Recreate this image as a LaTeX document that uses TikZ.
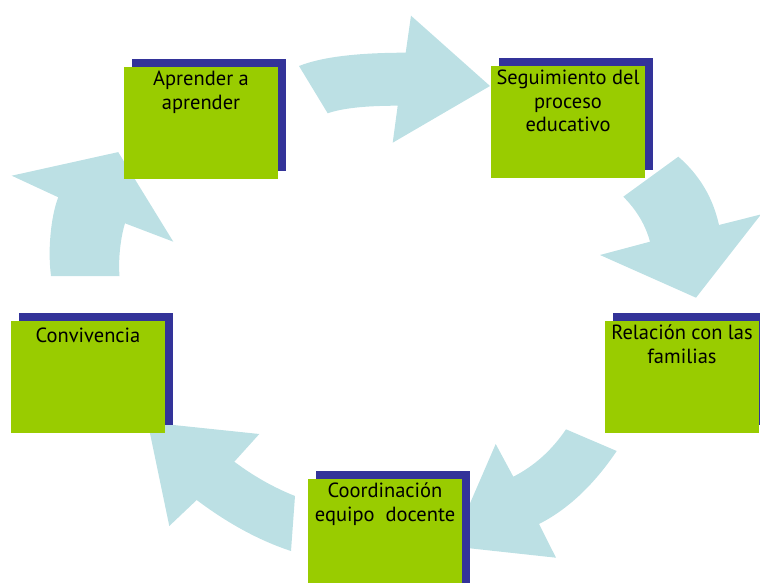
\documentclass[tikz,border=0pt]{standalone}
\usepackage{fontspec}
\setmainfont{PT Sans}
\usetikzlibrary{shadows}
\definecolor{boxgreen}{RGB}{153,204,0}
\definecolor{boxnavy}{RGB}{51,51,153}
\definecolor{arrowblue}{RGB}{188,224,228}
\begin{document}
\begin{tikzpicture}[x=1pt,y=-1pt,
  stagebox/.style={fill=boxgreen, draw=none, minimum width=154pt, minimum height=112pt, inner sep=0pt,
    copy shadow={shadow xshift=8pt, shadow yshift=8pt, fill=boxnavy, draw=none}},
  stagetext/.style={anchor=north, inner sep=0pt, align=center, text=black,
    font=\fontsize{20.5pt}{23.8pt}\selectfont, execute at begin node={\rule{0pt}{18pt}}},
  cyclearrow/.style={fill=arrowblue, draw=none}]
\useasboundingbox (0,0) rectangle (760,583);
\clip (0,0) rectangle (760,583);
% cycle arrows
\fill[cyclearrow] (299,66) .. controls (321.2,57.1) and (356.9,52.7) .. (405.7,52.7) -- (411,15.7) -- (490,86) -- (392.7,142.7) -- (397.7,105.7) .. controls (365.5,105.7) and (342.2,108.2) .. (327.7,113.3) -- cycle;
\fill[cyclearrow] (678.3,156.7) .. controls (699.3,174.8) and (712.9,197.5) .. (719,225) -- (761,214.4) -- (696,297.7) -- (600,255) -- (650,241.7) .. controls (645.5,225) and (636.6,210) .. (623.3,196.7) -- cycle;
\fill[cyclearrow] (616.7,451) .. controls (593.7,485.1) and (567.8,509.4) .. (539,524) -- (556,557.7) -- (451.4,546.3) -- (495.7,444) -- (513.3,476.7) .. controls (534.3,466) and (551.9,450.2) .. (566,429.3) -- cycle;
\fill[cyclearrow] (291,551) .. controls (259.6,540.7) and (228.2,523.7) .. (196.7,500) -- (169.3,526) -- (147.7,422.3) -- (259.3,434) -- (234.3,461.7) .. controls (253.4,476) and (273.6,487.5) .. (295,496) -- cycle;
\fill[cyclearrow] (51,276) .. controls (47,245) and (52.5,211) .. (58.3,197.3) -- (11.7,175.7) -- (118.2,152.1) -- (173.3,241.7) -- (125,223.3) .. controls (121,236) and (118,258) .. (119.5,276) -- cycle;
% boxes
\node[stagebox] (A) at (201,123) {};
\node[stagebox] (S) at (568,122) {};
\node[stagebox] (R) at (682,377) {};
\node[stagebox] (C) at (385,535) {};
\node[stagebox] (V) at (88,377) {};
% labels
\node[stagetext] (tA) at ([yshift=-3.8pt]A.north) {Aprender a\\aprender};
\node[stagetext] (tS) at ([yshift=-3.8pt]S.north) {Seguimiento del\\proceso\\educativo};
\node[stagetext] (tR) at ([yshift=-3.8pt]R.north) {Relación con las\\familias};
\node[stagetext] (tC) at ([yshift=-3.8pt]C.north) {Coordinación\\equipo~ docente};
\node[stagetext] (tV) at ([yshift=-3.8pt]V.north) {Convivencia};
\end{tikzpicture}
\end{document}
